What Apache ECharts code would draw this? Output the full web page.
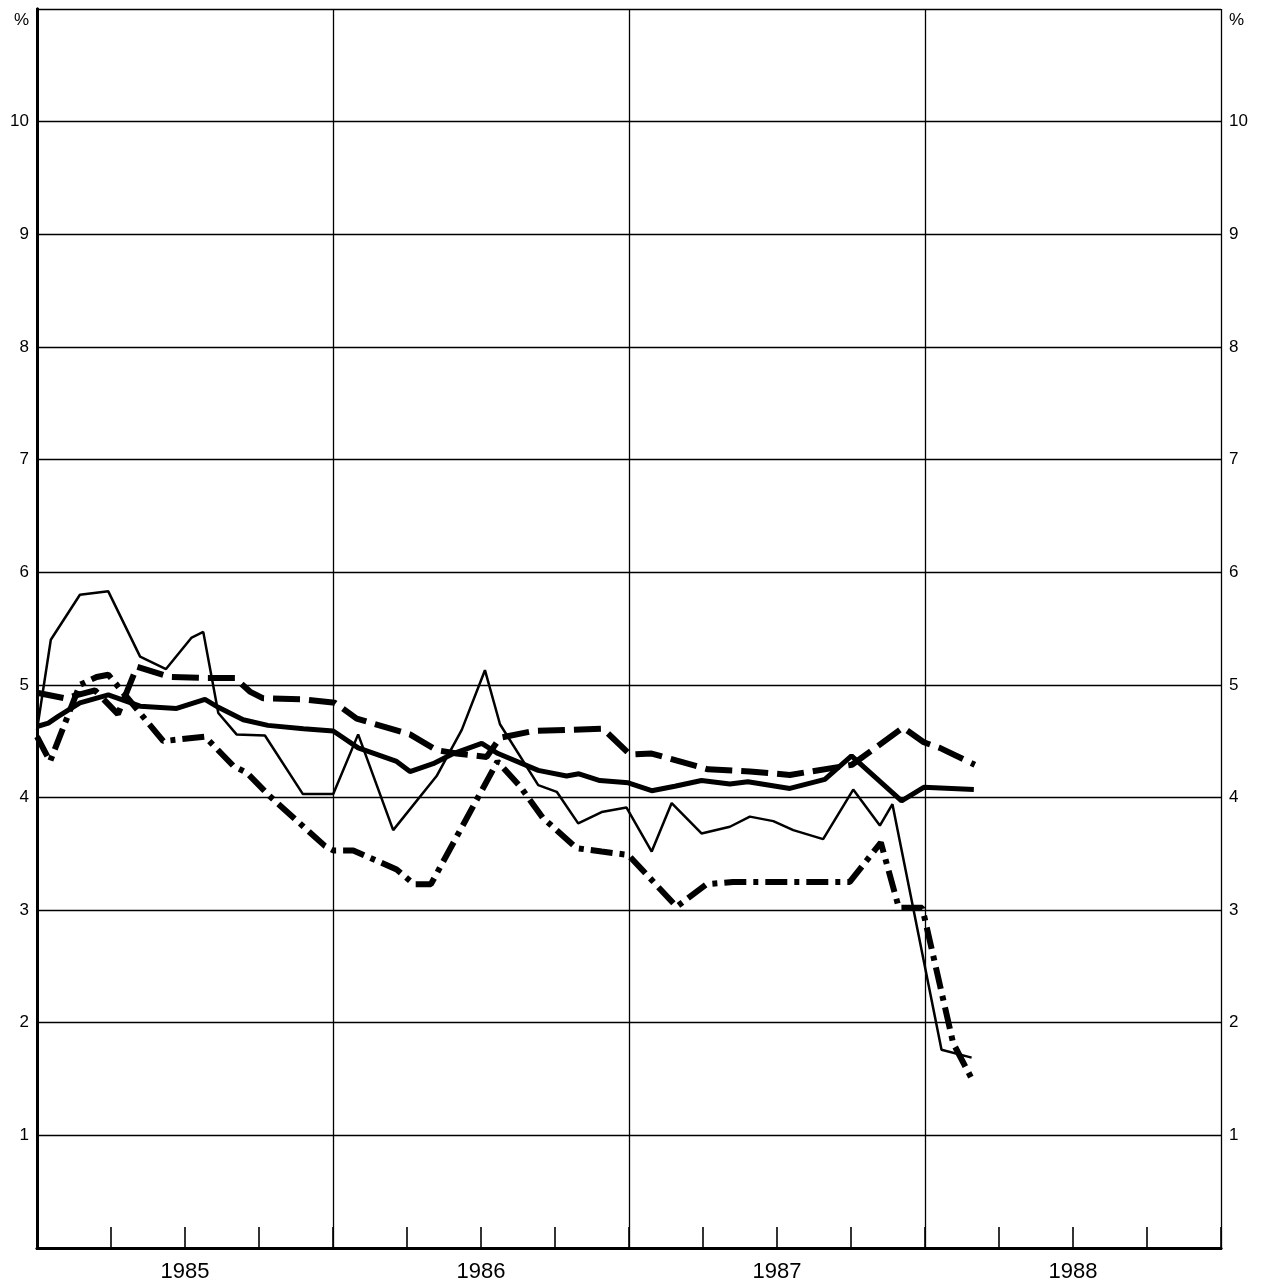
<!DOCTYPE html>
<html>
<head>
<meta charset="utf-8">
<script src="https://cdn.jsdelivr.net/npm/echarts@6/dist/echarts.min.js"></script>
<style>
html,body{margin:0;padding:0;background:#fff;}
#chart{width:1263px;height:1286px;}
</style>
</head>
<body>
<div id="chart"></div>
<script>
// x positions in months since January 1985, values in %
const yearLabels = ['1985', '1986', '1987', '1988'];

const thinMonths = [0, 0.56, 1.74, 2.89, 4.18, 5.23, 6.27, 6.74, 7.35, 8.09, 9.24, 10.78, 12.01, 13.02, 14.44, 16.2, 17.22, 18.16, 18.77, 20.32, 21.07, 21.94, 22.89, 23.9, 24.92, 25.73, 26.94, 28.09, 28.9, 29.85, 30.66, 31.87, 33.09, 34.17, 34.68, 36.67, 37.89];
const thinValues = [4.60, 5.40, 5.80, 5.83, 5.25, 5.14, 5.42, 5.47, 4.75, 4.56, 4.55, 4.03, 4.03, 4.56, 3.71, 4.19, 4.60, 5.13, 4.65, 4.11, 4.05, 3.77, 3.87, 3.91, 3.52, 3.95, 3.68, 3.74, 3.83, 3.79, 3.71, 3.63, 4.07, 3.75, 3.94, 1.76, 1.69];

const boldMonths = [0, 0.46, 0.86, 1.74, 2.89, 4.18, 5.66, 6.81, 7.35, 8.36, 9.36, 10.8, 12.01, 13.02, 14.58, 15.12, 16.06, 16.88, 18.03, 18.69, 20.32, 21.47, 21.97, 22.82, 23.97, 24.92, 25.86, 26.94, 28.09, 28.82, 30.52, 31.94, 33.02, 35.05, 35.95, 37.98];
const boldValues = [4.63, 4.66, 4.72, 4.84, 4.91, 4.81, 4.79, 4.87, 4.80, 4.69, 4.64, 4.61, 4.59, 4.44, 4.32, 4.23, 4.30, 4.39, 4.48, 4.39, 4.24, 4.19, 4.21, 4.15, 4.13, 4.06, 4.10, 4.15, 4.12, 4.14, 4.08, 4.16, 4.37, 3.97, 4.09, 4.07];

const dashMonths = [0, 1.13, 2.35, 3.28, 4.05, 5.39, 6.88, 8.03, 8.63, 9.17, 10.79, 12.08, 12.96, 15.12, 16.2, 17.01, 18.23, 18.77, 20.12, 22.95, 24.04, 24.92, 27.2, 28.9, 30.52, 33.04, 35.11, 35.95, 36.6, 38.02];
const dashValues = [4.93, 4.88, 4.95, 4.74, 5.16, 5.07, 5.06, 5.06, 4.94, 4.88, 4.87, 4.84, 4.70, 4.56, 4.42, 4.39, 4.36, 4.53, 4.59, 4.61, 4.38, 4.39, 4.25, 4.23, 4.20, 4.29, 4.62, 4.49, 4.44, 4.29];

const dotMonths = [0, 0.53, 1.74, 2.42, 2.89, 5.12, 6.81, 7.96, 8.5, 9.44, 11.67, 12.01, 12.82, 14.58, 15.28, 15.97, 18.67, 19.58, 20.5, 21.88, 22.89, 23.97, 25.93, 27.15, 28.22, 32.95, 34.21, 34.94, 35.89, 37.14, 37.9];
const dotValues = [4.54, 4.32, 5.00, 5.07, 5.09, 4.50, 4.54, 4.28, 4.22, 4.01, 3.57, 3.53, 3.53, 3.36, 3.23, 3.23, 4.32, 4.10, 3.82, 3.55, 3.52, 3.49, 3.03, 3.23, 3.25, 3.25, 3.60, 3.02, 3.02, 1.82, 1.50];

function pairs(xs, ys) { return xs.map((x, i) => [x, ys[i]]); }

const FONT = '"Liberation Sans", Arial, sans-serif';
const chart = echarts.init(document.getElementById('chart'), null, {renderer: 'canvas'});

const yLabelFmt = v => v === 0 ? '' : (v === 11 ? '{p|%}' : String(v));

chart.setOption({
  animation: false,
  backgroundColor: '#fff',
  grid: {left: 37, right: 42, top: 9, bottom: 38, containLabel: false},
  xAxis: [
    {
      type: 'value', min: 0, max: 48, interval: 3, position: 'bottom',
      axisLine: {show: true, lineStyle: {color: '#000', width: 3}},
      axisTick: {show: true, inside: true, length: 21, lineStyle: {color: '#000', width: 1.6}},
      axisLabel: {
        margin: 13, color: '#000', fontFamily: FONT, fontSize: 22,
        formatter: v => (v % 12 === 6 ? yearLabels[(v - 6) / 12] : '')
      },
      splitLine: {show: false}
    },
    {
      type: 'value', min: 0, max: 48, interval: 12, position: 'top',
      axisLine: {show: true, lineStyle: {color: '#000', width: 2.5}},
      axisTick: {show: false}, axisLabel: {show: false},
      splitLine: {show: true, lineStyle: {color: '#000', width: 1.3}}
    }
  ],
  yAxis: [
    {
      type: 'value', min: 0, max: 11, interval: 1, position: 'left',
      axisLine: {show: true, lineStyle: {color: '#000', width: 3}},
      axisTick: {show: false},
      axisLabel: {margin: 8, color: '#000', fontFamily: FONT, fontSize: 17, formatter: yLabelFmt,
        rich: {p: {fontFamily: FONT, fontSize: 17, color: '#000', padding: [22, 0, 0, 0]}}},
      splitLine: {show: true, lineStyle: {color: '#000', width: 1.3}}
    },
    {
      type: 'value', min: 0, max: 11, interval: 1, position: 'right',
      axisLine: {show: true, lineStyle: {color: '#000', width: 3}},
      axisTick: {show: false},
      axisLabel: {margin: 8, color: '#000', fontFamily: FONT, fontSize: 17, formatter: yLabelFmt,
        rich: {p: {fontFamily: FONT, fontSize: 17, color: '#000', padding: [22, 0, 0, 0]}}},
      splitLine: {show: false}
    }
  ],
  series: [
    {
      name: 'thin', type: 'line', xAxisIndex: 0, yAxisIndex: 0, symbol: 'none',
      data: pairs(thinMonths, thinValues),
      lineStyle: {color: '#000', width: 2.5, type: 'solid'}
    },
    {
      name: 'bold', type: 'line', xAxisIndex: 0, yAxisIndex: 0, symbol: 'none',
      data: pairs(boldMonths, boldValues),
      lineStyle: {color: '#000', width: 5, type: 'solid'}
    },
    {
      name: 'dashed', type: 'line', xAxisIndex: 0, yAxisIndex: 0, symbol: 'none',
      data: pairs(dashMonths, dashValues),
      lineStyle: {color: '#000', width: 6, type: [27, 9]}
    },
    {
      name: 'dashdot', type: 'line', xAxisIndex: 0, yAxisIndex: 0, symbol: 'none',
      data: pairs(dotMonths, dotValues),
      lineStyle: {color: '#000', width: 6, type: [22, 7, 5, 7]}
    }
  ]
});
</script>
</body>
</html>
